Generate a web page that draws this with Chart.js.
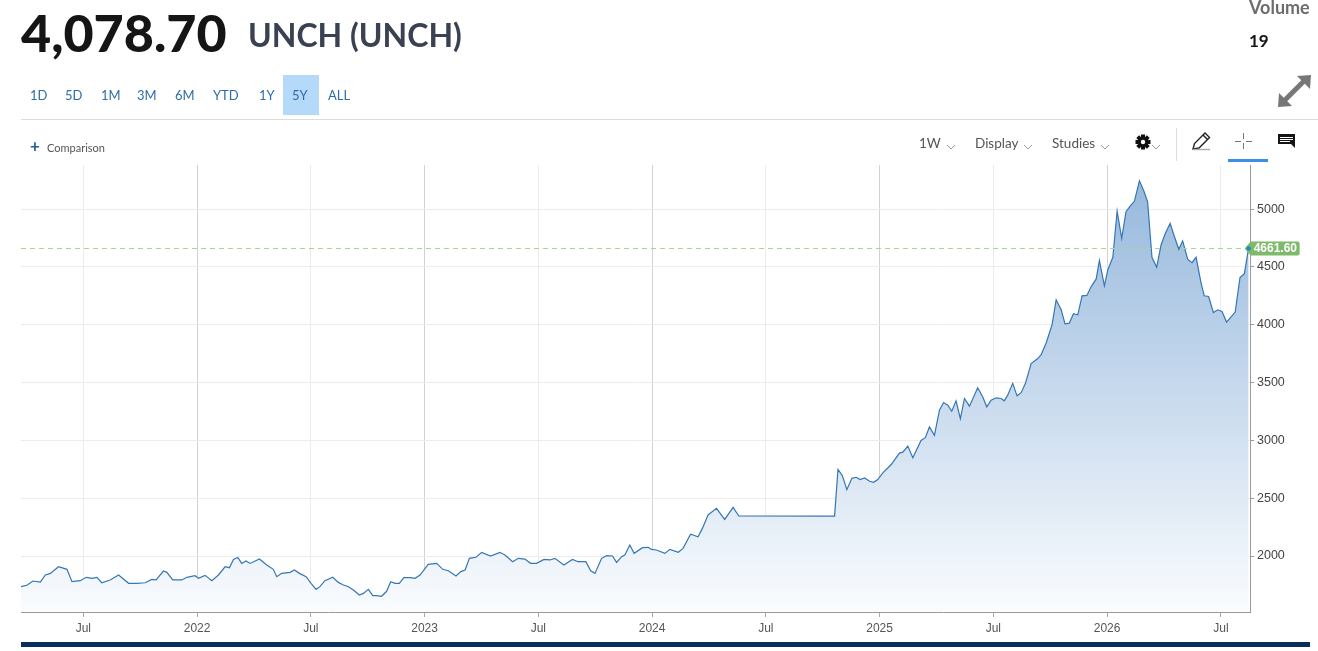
<!DOCTYPE html>
<html>
<head>
<meta charset="utf-8">
<script src="https://cdn.jsdelivr.net/npm/chart.js@4.4.1/dist/chart.umd.min.js"></script>
<style>
  body { margin: 0; width: 1318px; height: 651px; overflow: hidden; background: #fff; position: relative; font-family: Lato, "Open Sans", sans-serif; }
  canvas { position: absolute; left: 0; top: 0; }
  .t { position: absolute; white-space: nowrap; line-height: 1; }
  #price { left: 21px; top: 6px; font-size: 52px; font-weight: 900; color: #151515; }
  #name { left: 248px; top: 19px; font-size: 32px; font-weight: 700; color: #3a4152; }
  #volLbl { left: 1249px; top: -2px; font-size: 18px; font-weight: 700; color: #6d6d6d; }
  #volVal { left: 1249px; top: 32px; font-size: 17px; font-weight: 700; color: #151515; }
  .rng { position: absolute; top: 75px; height: 40px; line-height: 40px; font-size: 13px; color: #2e6da6; }
  #sel { position: absolute; left: 283px; top: 75px; width: 36px; height: 40px; background: #b5d9f8; }
  #rule { position: absolute; left: 21px; top: 119px; width: 1297px; height: 1px; background: #dcdcdc; }
  .tb { position: absolute; top: 135px; font-size: 13.5px; color: #555; line-height: 16px; }
  #plus { left: 30px; top: 137px; font-size: 17px; font-weight: 700; color: #1f5fa8; line-height: 17px; }
  #cmp { left: 47px; top: 141px; font-size: 11px; color: #555; line-height: 13px; }
  #navy { position: absolute; left: 21px; top: 642px; width: 1289px; height: 5px; background: #0b2d5b; }
  svg { position: absolute; left: 0; top: 0; }
</style>
</head>
<body>
<canvas id="chart" width="1318" height="651"></canvas>

<div class="t" id="price">4,078.70</div>
<div class="t" id="name">UNCH (UNCH)</div>
<div class="t" id="volLbl">Volume</div>
<div class="t" id="volVal">19</div>

<div id="sel"></div>
<div class="rng" style="left:30px">1D</div>
<div class="rng" style="left:65px">5D</div>
<div class="rng" style="left:101px">1M</div>
<div class="rng" style="left:137px">3M</div>
<div class="rng" style="left:175px">6M</div>
<div class="rng" style="left:213px">YTD</div>
<div class="rng" style="left:259px">1Y</div>
<div class="rng" style="left:292px">5Y</div>
<div class="rng" style="left:328px">ALL</div>
<div id="rule"></div>

<div class="t" id="plus">+</div>
<div class="t" id="cmp">Comparison</div>
<div class="tb" style="left:919px">1W</div>
<div class="tb" style="left:975px">Display</div>
<div class="tb" style="left:1052px">Studies</div>
<div id="navy"></div>

<svg width="1318" height="651">
  <!-- expand arrows -->
  <g stroke="#777" stroke-width="5" fill="#777">
    <line x1="1284" y1="101" x2="1305" y2="80"/>
    <polygon points="1278,107 1279,93 1292,106" stroke="none"/>
    <polygon points="1311,75 1310,89 1297,76" stroke="none"/>
  </g>
  <!-- chevrons -->
  <g stroke="#9a9a9a" stroke-width="1" fill="none">
    <polyline points="947,145 951,149 955,145"/>
    <polyline points="1024,145 1028,149 1032,145"/>
    <polyline points="1101,145 1105,149 1109,145"/>
    <polyline points="1152,145 1156,149 1160,145"/>
  </g>
  <!-- gear -->
  <g transform="translate(1143,142)" fill="#111">
    <rect x="-2" y="-7.5" width="4" height="15"/>
    <rect x="-2" y="-7.5" width="4" height="15" transform="rotate(45)"/>
    <rect x="-2" y="-7.5" width="4" height="15" transform="rotate(90)"/>
    <rect x="-2" y="-7.5" width="4" height="15" transform="rotate(135)"/>
    <circle r="5.5"/>
    <circle r="2.2" fill="#fff"/>
  </g>
  <line x1="1176.5" y1="128" x2="1176.5" y2="161" stroke="#ddd"/>
  <!-- pencil -->
  <g stroke="#222" stroke-width="1.4" fill="none">
    <polygon points="1193,149 1194.5,143.5 1205,133 1209.5,137.5 1199,148"/>
    <line x1="1203" y1="135" x2="1207.5" y2="139.5"/>
    <line x1="1193" y1="149.5" x2="1210" y2="149.5" stroke="#aaa"/>
  </g>
  <!-- crosshair -->
  <g stroke="#777" stroke-width="1">
    <line x1="1243.5" y1="133" x2="1243.5" y2="139"/>
    <line x1="1243.5" y1="143" x2="1243.5" y2="149"/>
    <line x1="1235" y1="141.5" x2="1241" y2="141.5"/>
    <line x1="1246" y1="141.5" x2="1252" y2="141.5"/>
  </g>
  <rect x="1228" y="159" width="40" height="3" fill="#3d8ee6"/>
  <!-- notes -->
  <polygon points="1278,134 1295,134 1295,148 1291,144 1278,144" fill="#151515"/>
  <g stroke="#fff" stroke-width="1">
    <line x1="1280" y1="137.5" x2="1293" y2="137.5"/>
    <line x1="1280" y1="139.5" x2="1293" y2="139.5"/>
    <line x1="1280" y1="141.5" x2="1290" y2="141.5"/>
  </g>
</svg>

<script>
// weekly closes, x = decimal year
const weeks = [
  2021.226, 2021.252, 2021.278, 2021.311, 2021.333, 2021.355, 2021.391, 2021.428, 2021.450, 2021.486,
  2021.513, 2021.538, 2021.560, 2021.581, 2021.618, 2021.655, 2021.699, 2021.735, 2021.772, 2021.801,
  2021.820, 2021.852, 2021.867, 2021.893, 2021.933, 2021.955, 2021.991, 2022.006, 2022.035, 2022.065,
  2022.094, 2022.123, 2022.142, 2022.160, 2022.179, 2022.196, 2022.215, 2022.233, 2022.274, 2022.306,
  2022.335, 2022.350, 2022.372, 2022.409, 2022.428, 2022.450, 2022.479, 2022.501, 2022.523, 2022.540,
  2022.562, 2022.596, 2022.621, 2022.643, 2022.665, 2022.687, 2022.713, 2022.731, 2022.753, 2022.772,
  2022.789, 2022.811, 2022.833, 2022.851, 2022.870, 2022.889, 2022.909, 2022.936, 2022.958, 2022.980,
  2023.016, 2023.053, 2023.080, 2023.104, 2023.138, 2023.159, 2023.178, 2023.197, 2023.226, 2023.251,
  2023.290, 2023.331, 2023.353, 2023.387, 2023.412, 2023.441, 2023.466, 2023.492, 2023.525, 2023.551,
  2023.573, 2023.612, 2023.650, 2023.675, 2023.709, 2023.730, 2023.749, 2023.778, 2023.800, 2023.826,
  2023.844, 2023.866, 2023.880, 2023.902, 2023.921, 2023.958, 2023.983, 2023.997, 2024.019, 2024.056,
  2024.078, 2024.115, 2024.136, 2024.169, 2024.202, 2024.221, 2024.246, 2024.283, 2024.319, 2024.356,
  2024.381, 2024.802, 2024.817, 2024.836, 2024.856, 2024.878, 2024.897, 2024.915, 2024.934, 2024.956,
  2024.973, 2024.992, 2025.014, 2025.051, 2025.087, 2025.102, 2025.124, 2025.146, 2025.182, 2025.201,
  2025.219, 2025.241, 2025.263, 2025.281, 2025.300, 2025.317, 2025.336, 2025.355, 2025.373, 2025.395,
  2025.431, 2025.453, 2025.471, 2025.490, 2025.512, 2025.534, 2025.548, 2025.563, 2025.585, 2025.604,
  2025.622, 2025.641, 2025.666, 2025.695, 2025.710, 2025.732, 2025.758, 2025.776, 2025.798, 2025.815,
  2025.834, 2025.852, 2025.871, 2025.890, 2025.911, 2025.930, 2025.952, 2025.966, 2025.988, 2026.003,
  2026.025, 2026.044, 2026.064, 2026.083, 2026.101, 2026.120, 2026.142, 2026.161, 2026.178, 2026.197,
  2026.218, 2026.237, 2026.256, 2026.277, 2026.296, 2026.315, 2026.332, 2026.354, 2026.373, 2026.391,
  2026.413, 2026.427, 2026.446, 2026.467, 2026.486, 2026.505, 2026.525, 2026.544, 2026.563, 2026.584,
  2026.603, 2026.622
];
const closes = [
  1735, 1747, 1784, 1775, 1836, 1850, 1907, 1885, 1778, 1787,
  1816, 1807, 1816, 1769, 1793, 1836, 1764, 1764, 1769, 1798,
  1793, 1870, 1859, 1793, 1793, 1816, 1830, 1807, 1833, 1787,
  1836, 1907, 1899, 1971, 1988, 1936, 1957, 1936, 1974, 1922,
  1885, 1821, 1850, 1859, 1879, 1850, 1821, 1764, 1712, 1735,
  1787, 1816, 1772, 1749, 1735, 1706, 1663, 1677, 1712, 1657,
  1657, 1652, 1695, 1778, 1764, 1764, 1813, 1813, 1807, 1836,
  1928, 1937, 1885, 1873, 1827, 1865, 1879, 1980, 1989, 2032,
  2000, 2032, 2009, 1951, 1980, 1974, 1937, 1937, 1971, 1966,
  1980, 1922, 1971, 1951, 1951, 1873, 1850, 1980, 2003, 2000,
  1945, 1994, 2009, 2095, 2023, 2072, 2075, 2058, 2052, 2023,
  2058, 2032, 2066, 2188, 2167, 2239, 2355, 2412, 2317, 2421,
  2346, 2345, 2748, 2695, 2574, 2672, 2681, 2661, 2675, 2646,
  2637, 2661, 2719, 2791, 2890, 2898, 2951, 2849, 3000, 3023,
  3116, 3043, 3261, 3327, 3304, 3252, 3342, 3188, 3362, 3296,
  3455, 3377, 3290, 3348, 3368, 3362, 3342, 3391, 3493, 3385,
  3412, 3493, 3664, 3707, 3741, 3842, 4000, 4215, 4129, 4008,
  4014, 4095, 4086, 4250, 4253, 4330, 4396, 4555, 4336, 4474,
  4583, 4983, 4747, 4977, 5026, 5069, 5244, 5158, 5063, 4583,
  4497, 4690, 4790, 4876, 4761, 4652, 4724, 4566, 4537, 4583,
  4359, 4250, 4244, 4106, 4129, 4115, 4023, 4066, 4109, 4408,
  4440, 4661.6
];
const xTickValues = [2021.5, 2022, 2022.5, 2023, 2023.5, 2024, 2024.5, 2025, 2025.5, 2026, 2026.5];
const xTickLabels = ["Jul", "2022", "Jul", "2023", "Jul", "2024", "Jul", "2025", "Jul", "2026", "Jul"];
const yTickValues = [2000, 2500, 3000, 3500, 4000, 4500, 5000];

const lastIdx = closes.length - 1;

// dashed last-price line + green tag
const lastPrice = {
  id: "lastPrice",
  afterDraw(chart) {
    const { ctx, chartArea, scales } = chart;
    const v = closes[lastIdx];
    const x = scales.x.getPixelForValue(weeks[lastIdx]);
    const y = Math.round(scales.y.getPixelForValue(v)) + 0.5;
    ctx.save();
    ctx.strokeStyle = "#acd49a";
    ctx.lineWidth = 1;
    ctx.setLineDash([5, 4]);
    ctx.beginPath();
    ctx.moveTo(chartArea.left, y);
    ctx.lineTo(x - 4, y);
    ctx.stroke();
    ctx.setLineDash([]);

    const bx = x - 4, h = 14, w = 55;
    ctx.fillStyle = "#7dba6b";
    ctx.beginPath();
    ctx.moveTo(bx, y);
    ctx.lineTo(bx + 6, y - h / 2);
    ctx.lineTo(bx + w - 2, y - h / 2);
    ctx.quadraticCurveTo(bx + w, y - h / 2, bx + w, y - h / 2 + 2);
    ctx.lineTo(bx + w, y + h / 2 - 2);
    ctx.quadraticCurveTo(bx + w, y + h / 2, bx + w - 2, y + h / 2);
    ctx.lineTo(bx + 6, y + h / 2);
    ctx.closePath();
    ctx.fill();

    ctx.fillStyle = "#fff";
    ctx.font = "bold 12px 'Liberation Sans', Arial, sans-serif";
    ctx.textBaseline = "middle";
    ctx.fillText(v.toFixed(2), bx + 9, y + 0.5);

    ctx.fillStyle = "#1e8bc9";
    ctx.beginPath();
    ctx.arc(x, y, 2.2, 0, Math.PI * 2);
    ctx.fill();
    ctx.restore();
  }
};

new Chart(document.getElementById("chart"), {
  type: "line",
  data: {
    datasets: [{
      data: weeks.map((w, i) => ({ x: w, y: closes[i] })),
      borderColor: "#3577b4",
      borderWidth: 1.2,
      pointRadius: 0,
      tension: 0,
      fill: "start",
      backgroundColor: (c) => {
        const { chartArea, ctx } = c.chart;
        if (!chartArea) return "rgba(150,185,222,0.5)";
        const g = ctx.createLinearGradient(0, chartArea.top, 0, chartArea.bottom);
        g.addColorStop(0, "#93b6dc");
        g.addColorStop(1, "#fafcfe");
        return g;
      }
    }]
  },
  options: {
    responsive: false,
    animation: false,
    layout: { padding: { left: 21, top: 165, right: 0, bottom: 0 } },
    plugins: { legend: { display: false }, tooltip: { enabled: false } },
    scales: {
      x: {
        type: "linear",
        min: 2021.226,
        max: 2026.628,
        afterBuildTicks: (s) => { s.ticks = xTickValues.map(v => ({ value: v })); },
        afterFit: (s) => { s.height = 39; },
        grid: {
          color: (c) => (c.tick && Number.isInteger(c.tick.value)) ? "#d2d2d2" : "#ececec",
          tickColor: "#aaa",
          tickLength: 5
        },
        border: { color: "#9a9a9a", width: 1 },
        ticks: {
          padding: 4,
          color: "#555",
          font: { family: "'Liberation Sans', Arial, sans-serif", size: 12 },
          maxRotation: 0,
          autoSkip: false,
          callback: (v, i) => xTickLabels[i]
        }
      },
      y: {
        position: "right",
        min: 1516,
        max: 5381,
        afterBuildTicks: (s) => { s.ticks = yTickValues.map(v => ({ value: v })); },
        afterFit: (s) => { s.width = 68; },
        grid: { color: "#ececec", tickColor: "#999", tickLength: 4 },
        border: { color: "#9a9a9a", width: 1 },
        ticks: {
          padding: 3,
          color: "#444",
          font: { family: "'Liberation Sans', Arial, sans-serif", size: 12.5 },
          callback: (v) => String(v)
        }
      }
    }
  },
  plugins: [lastPrice]
});
</script>
</body>
</html>
